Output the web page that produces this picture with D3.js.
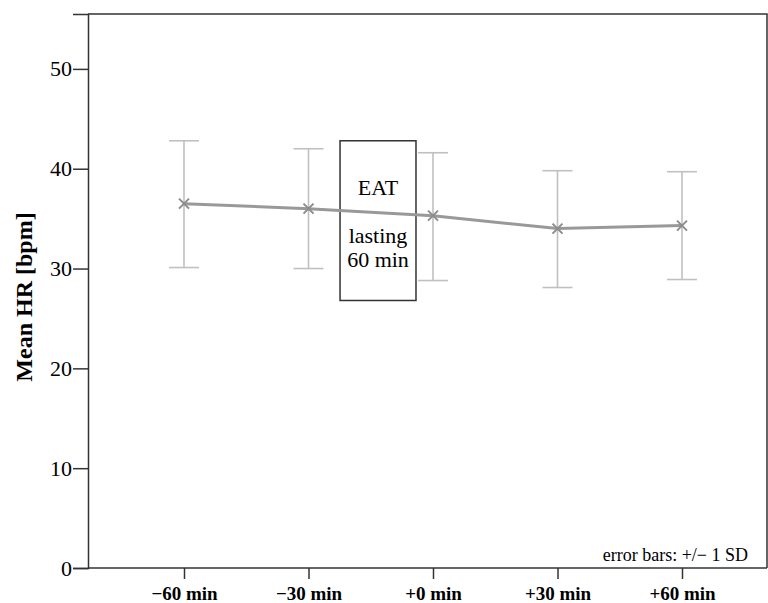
<!DOCTYPE html>
<html lang="en">
<head>
    <title>Mean HR</title>
    <script src="https://d3js.org/d3.v7.min.js"></script>
    <style>
        body { margin: 0; background: #fff; }
        text { font-family: "Liberation Serif", "Times New Roman", serif; }
    </style>
</head>
<body>
    <div id="chart"></div>

    <script>
        // Data
        const categories = ["\u221260 min", "\u221230 min", "+0 min", "+30 min", "+60 min"];
        const meanHR = [36.5, 36.0, 35.3, 34.0, 34.3];
        const upper  = [42.8, 42.0, 41.6, 39.8, 39.7];
        const lower  = [30.1, 30.0, 28.8, 28.1, 28.9];
        const yTicks = [0, 10, 20, 30, 40, 50];

        const width = 768;
        const height = 603;
        const mLeft = 88, mRight = 767, mTop = 14, mBottom = 568;

        const svg = d3.select("#chart")
            .append("svg")
            .attr("width", width)
            .attr("height", height);

        // Scales
        const x = d3.scalePoint()
            .domain(categories)
            .range([184, 682]);

        // minutes scale for placing the EAT box between time points
        const minutes = d3.scaleLinear()
            .domain([-60, 60])
            .range([184, 682]);

        const y = d3.scaleLinear()
            .domain([0, 55.5])
            .range([mBottom, mTop]);

        // Frame (top and right)
        svg.append("path")
            .attr("d", `M${mLeft},${mTop}H${mRight}V${mBottom}`)
            .attr("fill", "none")
            .attr("stroke", "#333")
            .attr("stroke-width", 1.5);

        // Y axis
        const yAxis = svg.append("g")
            .attr("transform", `translate(${mLeft},0)`)
            .call(d3.axisLeft(y).tickValues(yTicks).tickSize(15).tickPadding(1));
        yAxis.attr("font-family", null).attr("font-size", null);
        yAxis.select(".domain").attr("stroke", "#333").attr("stroke-width", 1.5);
        yAxis.selectAll(".tick line").attr("stroke", "#333").attr("stroke-width", 1.5);
        yAxis.selectAll(".tick text")
            .attr("font-size", 22)
            .attr("fill", "#000");

        // X axis
        const xAxis = svg.append("g")
            .attr("transform", `translate(0,${mBottom})`)
            .call(d3.axisBottom(x).tickSize(11).tickPadding(8));
        xAxis.attr("font-family", null).attr("font-size", null);
        xAxis.select(".domain")
            .attr("d", `M${mLeft},0H${mRight}`)
            .attr("stroke", "#333").attr("stroke-width", 1.5);
        xAxis.selectAll(".tick line").attr("stroke", "#333").attr("stroke-width", 1.5);
        xAxis.selectAll(".tick text")
            .attr("font-size", 19)
            .attr("font-weight", "bold")
            .attr("fill", "#000");

        // Y axis title
        svg.append("text")
            .attr("transform", `translate(32,297) rotate(-90)`)
            .attr("text-anchor", "middle")
            .attr("font-size", 24)
            .attr("font-weight", "bold")
            .text("Mean HR [bpm]");

        // Error bars
        const capHalf = 15;
        const bars = svg.append("g")
            .attr("stroke", "#c0c0c0")
            .attr("stroke-width", 1.6)
            .attr("fill", "none");
        categories.forEach((c, i) => {
            const cx = x(c);
            bars.append("line").attr("x1", cx).attr("x2", cx).attr("y1", y(upper[i])).attr("y2", y(lower[i]));
            bars.append("line").attr("x1", cx - capHalf).attr("x2", cx + capHalf).attr("y1", y(upper[i])).attr("y2", y(upper[i]));
            bars.append("line").attr("x1", cx - capHalf).attr("x2", cx + capHalf).attr("y1", y(lower[i])).attr("y2", y(lower[i]));
        });

        // EAT annotation box
        const boxX0 = minutes(-22.4), boxX1 = minutes(-4.1);
        svg.append("rect")
            .attr("x", boxX0)
            .attr("y", y(42.8))
            .attr("width", boxX1 - boxX0)
            .attr("height", y(26.8) - y(42.8))
            .attr("fill", "none")
            .attr("stroke", "#333")
            .attr("stroke-width", 1.5);

        // Mean line
        const line = d3.line()
            .x((d, i) => x(categories[i]))
            .y(d => y(d));
        svg.append("path")
            .datum(meanHR)
            .attr("d", line)
            .attr("fill", "none")
            .attr("stroke", "#999")
            .attr("stroke-width", 3);

        // X markers
        const m = 5;
        const markers = svg.append("g")
            .attr("stroke", "#8c8c8c")
            .attr("stroke-width", 2);
        meanHR.forEach((v, i) => {
            const cx = x(categories[i]), cy = y(v);
            markers.append("path").attr("d", `M${cx - m},${cy - m}L${cx + m},${cy + m}M${cx - m},${cy + m}L${cx + m},${cy - m}`);
        });

        // Box text
        const bx = (boxX0 + boxX1) / 2;
        svg.append("text").attr("x", bx).attr("y", 195).attr("text-anchor", "middle")
            .attr("font-size", 22).text("EAT");
        svg.append("text").attr("x", bx).attr("y", 243).attr("text-anchor", "middle")
            .attr("font-size", 22).text("lasting");
        svg.append("text").attr("x", bx).attr("y", 267).attr("text-anchor", "middle")
            .attr("font-size", 22).text("60 min");

        // Footnote
        svg.append("text")
            .attr("x", 748)
            .attr("y", 561)
            .attr("text-anchor", "end")
            .attr("font-size", 18)
            .text("error bars: +/\u2212 1 SD");
    </script>
</body>
</html>
